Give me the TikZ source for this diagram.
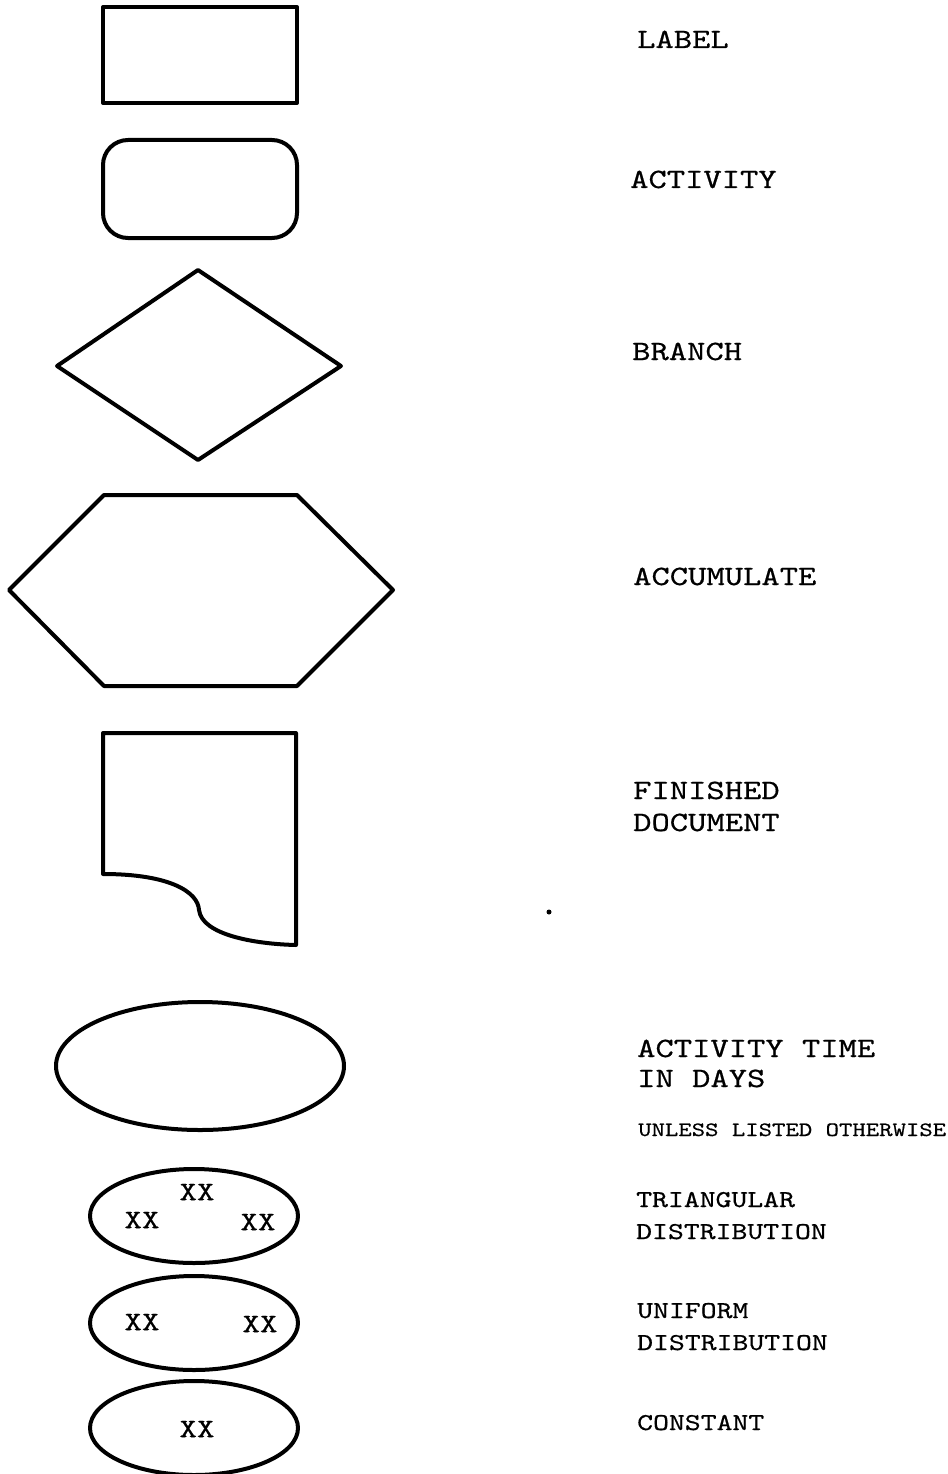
\documentclass[tikz,border=0pt]{standalone}
\usepackage{fontspec}
\newfontfamily\typefont{lmmono10-regular.otf}[FakeStretch=1.25,FakeBold=0.6]
\usetikzlibrary{positioning}

\tikzset{
	shape line/.style={line width=4pt, line join=round},
	big label/.style={anchor=base west, inner sep=0pt, font=\typefont\fontsize{27.9}{31}\selectfont},
	small label/.style={anchor=base west, inner sep=0pt, font=\typefont\fontsize{24.2}{28}\selectfont},
	tiny label/.style={anchor=base west, inner sep=0pt, font=\typefont\fontsize{20.4}{24}\selectfont},
	xx/.style={inner sep=0pt, font=\typefont\fontsize{26.7}{30}\selectfont}
}

\begin{document}
\begin{tikzpicture}[x=1pt, y=-1pt]
		\useasboundingbox (0,0) rectangle (947,1474);
		% symbols
		\draw[shape line] (103,7) rectangle (297,103);
		\draw[shape line, rounded corners=25pt] (103,140) rectangle (297,238);
		\draw[shape line] (198,270) -- (341,366) -- (198,460) -- (57,366) -- cycle;
		\draw[shape line] (104,495) -- (297,495) -- (393,590) -- (297,686) -- (104,686) -- (9,590) -- cycle;
		\draw[shape line] (103,874) -- (103,733) -- (296,733) -- (296,945)
			.. controls (255,944) and (202,935) .. (199,910)
			.. controls (198,892) and (170,874) .. cycle;
		\draw[shape line] (200,1066) ellipse [x radius=144pt, y radius=64pt];
		\foreach \y in {1216,1323,1428}
		{
			\draw[shape line] (194,\y) ellipse [x radius=104pt, y radius=47pt];
		}
		\fill (549,912) circle (2.5pt);
		% values
		\node[xx] (triTop) at (197,1192) {XX};
		\node[xx] (triLow) at (142,1220) {XX};
		\node[xx] (triHigh) at (258,1222) {XX};
		\node[xx] (uniLow) at (142,1322) {XX};
		\node[xx] (uniHigh) at (260,1324) {XX};
		\node[xx] (const) at (197,1429) {XX};
		% legend texts
		\node[big label] (label) at (637,48) {LABEL};
		\node[big label] (activity) at (630,188) {ACTIVITY};
		\node[big label] (branch) at (632,360) {BRANCH};
		\node[big label] (accumulate) at (633,585) {ACCUMULATE};
		\node[big label] (finished) at (633,799) {FINISHED};
		\node[big label] (document) at (633,831) {DOCUMENT};
		\node[big label] (acttime) at (637,1057) {ACTIVITY TIME};
		\node[big label] (indays) at (637,1087) {IN DAYS};
		\node[tiny label] (unless) at (638,1136) {UNLESS LISTED OTHERWISE};
		\node[small label] (triangular) at (636,1207) {TRIANGULAR};
		\node[small label] (tridist) at (636,1239) {DISTRIBUTION};
		\node[small label] (uniform) at (637,1318) {UNIFORM};
		\node[small label] (unidist) at (637,1350) {DISTRIBUTION};
		\node[small label] (constant) at (637,1430) {CONSTANT};
	\end{tikzpicture}
\end{document}
